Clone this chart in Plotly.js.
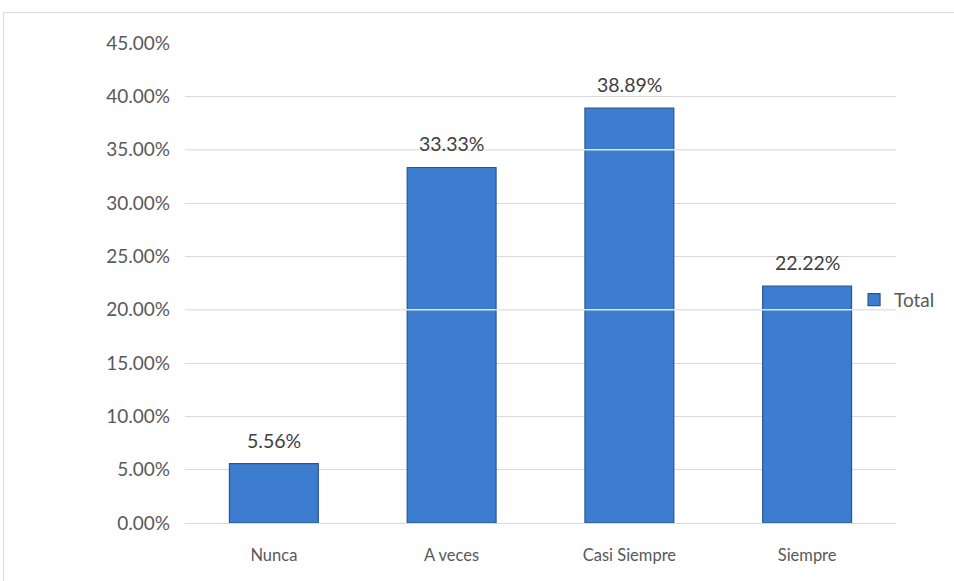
<!DOCTYPE html>
<html>
<head>
<meta charset="utf-8">
<script src="https://cdn.plot.ly/plotly-3.0.1.min.js"></script>
<style>
  html, body { margin: 0; padding: 0; background: #ffffff; overflow: hidden; }
  #wrap { position: relative; width: 954px; height: 581px; }
  #chart { position: absolute; left: 0; top: 0; width: 954px; height: 581px; }
  #frame { position: absolute; left: 3px; top: 12px; width: 1000px; height: 1000px;
           border: 1px solid #d9d9d9; pointer-events: none; box-sizing: border-box; }
</style>
</head>
<body>
<div id="wrap">
  <div id="chart"></div>
  <div id="frame"></div>
</div>
<script>
const categories = ["Nunca", "A veces", "Casi Siempre", "Siempre"];
const totalValues = [0.0556, 0.3333, 0.3889, 0.2222];
const valueLabels = ["5.56%", "33.33%", "38.89%", "22.22%"];
const seriesName = "Total";
const overlayGridLevels = [0.20, 0.35];

const fontFamily = "Lato, 'Open Sans', 'DejaVu Sans', sans-serif";

const trace = {
  type: "bar",
  name: seriesName,
  x: categories,
  y: totalValues,
  marker: {
    color: "#3c7dd0",
    line: { color: "#2a5590", width: 1.2 }
  },
  showlegend: true,
  hoverinfo: "x+y"
};

const labelAnnotations = categories.map((c, i) => ({
  x: c, y: totalValues[i], xref: "x", yref: "y",
  text: valueLabels[i],
  showarrow: false,
  yanchor: "bottom",
  yshift: 10,
  font: { family: fontFamily, size: 19.5, color: "#404040" }
}));

const layout = {
  width: 954,
  height: 581,
  margin: { l: 185, r: 58, t: 43, b: 58, pad: 0 },
  paper_bgcolor: "#ffffff",
  plot_bgcolor: "#ffffff",
  bargap: 0.5,
  font: { family: fontFamily, size: 16, color: "#595959" },
  showlegend: true,
  legend: {
    x: 0.941, xanchor: "left",
    y: 0.465, yanchor: "middle",
    bgcolor: "rgba(0,0,0,0)",
    font: { family: fontFamily, size: 19, color: "#595959" }
  },
  xaxis: {
    type: "category",
    showgrid: false,
    showline: true,
    linecolor: "#d9d9d9",
    linewidth: 1,
    ticks: "",
    tickfont: { family: fontFamily, size: 16.5, color: "#595959" },
    ticklabelstandoff: 17
  },
  yaxis: {
    range: [0, 0.45],
    dtick: 0.05,
    tick0: 0,
    tickformat: ".2%",
    showgrid: true,
    gridcolor: "#d9d9d9",
    gridwidth: 1,
    zeroline: false,
    showline: false,
    ticks: "",
    ticklabelstandoff: 14,
    tickfont: { family: fontFamily, size: 19, color: "#595959" }
  },
  annotations: labelAnnotations,
  shapes: overlayGridLevels.map(v => ({
    type: "line", xref: "paper", yref: "y",
    x0: 0, x1: 1, y0: v, y1: v,
    layer: "above",
    line: { color: "#e4e4e4", width: 1.5 }
  }))
};

Plotly.newPlot("chart", [trace], layout, { displayModeBar: false, staticPlot: true });
</script>
</body>
</html>
